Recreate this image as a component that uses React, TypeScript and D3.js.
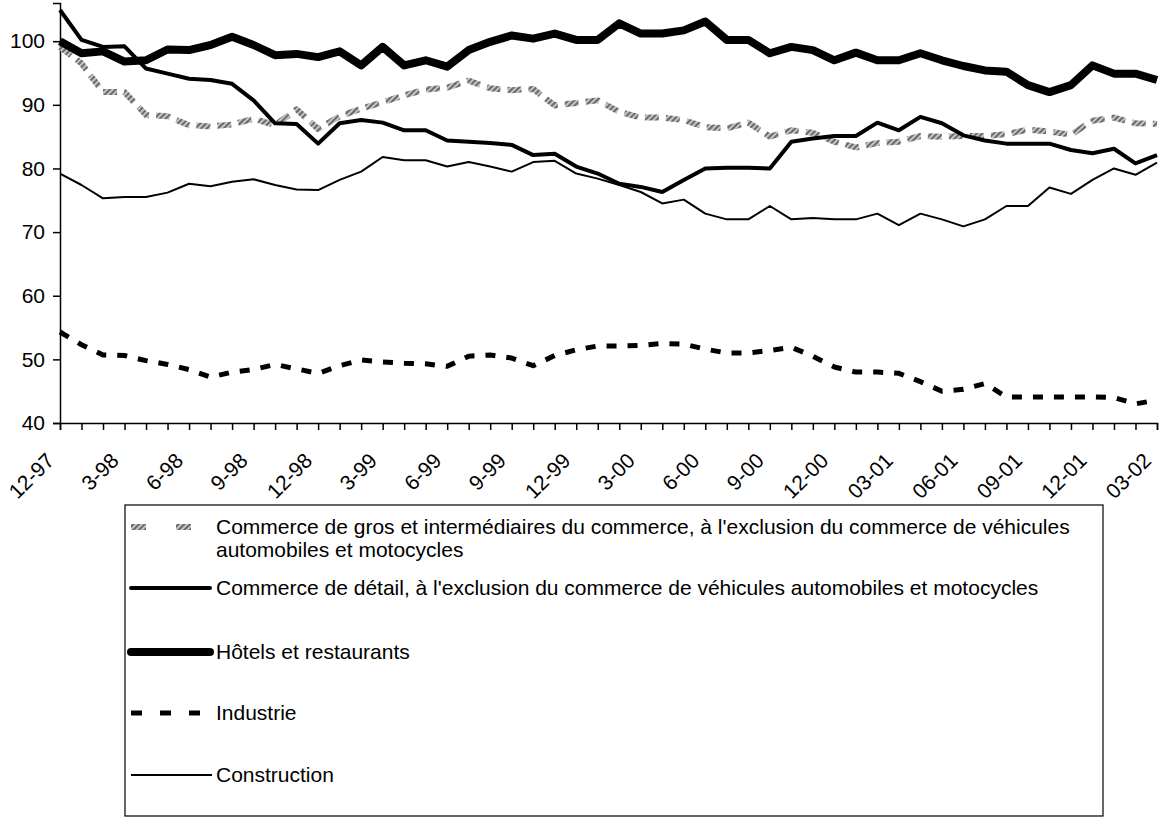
import * as d3 from 'd3';
import { useEffect, useRef } from "react";

const tickLabels = ['12-97', '3-98', '6-98', '9-98', '12-98', '3-99', '6-99', '9-99', '12-99',
    '3-00', '6-00', '9-00', '12-00', '03-01', '06-01', '09-01', '12-01', '03-02'];

const yTicks = [40, 50, 60, 70, 80, 90, 100];

// monthly values, 12-97 .. 03-02
const gros = [99.1, 96.5, 92.0, 92.0, 88.4, 88.2, 86.8, 86.6, 86.9, 87.8, 86.8, 89.3, 86.2,
    88.2, 89.4, 90.4, 91.5, 92.4, 92.7, 93.8, 92.6, 92.3, 92.5, 89.9, 90.3, 90.7, 88.9, 88.0,
    88.0, 87.6, 86.5, 86.3, 87.2, 85.0, 86.0, 85.6, 84.2, 83.3, 84.0, 84.2, 85.1, 85.0, 85.1,
    85.1, 85.4, 86.1, 85.8, 85.3, 87.5, 88.0, 87.1, 87.0];

const detail = [104.9, 100.2, 99.1, 99.2, 95.7, 94.9, 94.1, 93.9, 93.3, 90.7, 87.1, 87.0, 83.9,
    87.1, 87.6, 87.2, 86.0, 86.0, 84.4, 84.2, 84.0, 83.7, 82.1, 82.3, 80.3, 79.2, 77.6, 77.1,
    76.3, 78.2, 80.0, 80.1, 80.1, 80.0, 84.2, 84.7, 85.1, 85.1, 87.2, 86.0, 88.1, 87.1, 85.2,
    84.4, 83.9, 83.9, 83.9, 82.9, 82.4, 83.1, 80.8, 82.1];

const hotels = [100, 98.1, 98.4, 96.8, 97.0, 98.7, 98.6, 99.4, 100.7, 99.4, 97.8, 98.0, 97.5,
    98.4, 96.2, 99.1, 96.2, 97.0, 96.0, 98.6, 99.9, 100.9, 100.4, 101.2, 100.2, 100.2, 102.8,
    101.2, 101.2, 101.7, 103.1, 100.2, 100.2, 98.1, 99.1, 98.6, 97.0, 98.2, 97.0, 97.0, 98.1,
    97.0, 96.1, 95.4, 95.2, 93.1, 92.0, 93.1, 96.2, 94.9, 94.9, 93.9];

const industrie = [54.3, 52.3, 50.7, 50.6, 49.8, 49.2, 48.4, 47.2, 48.0, 48.4, 49.2, 48.5, 47.8,
    49.0, 49.9, 49.6, 49.4, 49.3, 48.9, 50.5, 50.7, 50.2, 49.0, 50.6, 51.5, 52.1, 52.1, 52.2,
    52.5, 52.4, 51.6, 51.0, 51.0, 51.4, 51.9, 50.5, 48.8, 48.0, 48.0, 47.8, 46.5, 45.0, 45.3,
    46.2, 44.1, 44.1, 44.1, 44.1, 44.1, 44.0, 43.0, 43.6];

const construction = [79.2, 77.4, 75.3, 75.5, 75.5, 76.2, 77.6, 77.2, 77.9, 78.3, 77.4, 76.7, 76.6,
    78.2, 79.5, 81.8, 81.3, 81.3, 80.3, 81.0, 80.3, 79.5, 81.0, 81.2, 79.2, 78.4, 77.4, 76.3,
    74.5, 75.1, 72.9, 72.0, 72.0, 74.1, 72.0, 72.2, 72.0, 72.0, 72.9, 71.1, 72.9, 72.0, 70.9,
    72.0, 74.1, 74.1, 77.0, 76.0, 78.2, 80.0, 79.0, 80.9];

type Series = {
    label: string[],
    values: number[],
    stroke: string,
    width: number,
    dash: string | null,
    legendDash: string | null,
    cap: string,
};

const series: Series[] = [
    { label: ["Commerce de gros et intermédiaires du commerce, à l'exclusion du commerce de véhicules", "automobiles et motocycles"], values: gros, stroke: 'url(#hatch)', width: 6, dash: '14 7', legendDash: '15 30', cap: 'butt' },
    { label: ["Commerce de détail, à l'exclusion du commerce de véhicules automobiles et motocycles"], values: detail, stroke: '#000', width: 4, dash: null, legendDash: null, cap: 'round' },
    { label: ["Hôtels et restaurants"], values: hotels, stroke: '#000', width: 8, dash: null, legendDash: null, cap: 'round' },
    { label: ["Industrie"], values: industrie, stroke: '#000', width: 5, dash: '10 11', legendDash: '11 18', cap: 'butt' },
    { label: ["Construction"], values: construction, stroke: '#000', width: 2, dash: null, legendDash: null, cap: 'butt' },
];

const W = 1160;
const H = 818;
const FONT = '"Liberation Sans", Arial, sans-serif';
const FS = 21;

export default function App() {
    const ref = useRef(null);
    useEffect(() => {
        if (!ref.current) return;
        const svg = d3.select(ref.current);
        svg.selectAll("*").remove();

        const defs = svg.append('defs');
        const pat = defs.append('pattern')
            .attr('id', 'hatch')
            .attr('patternUnits', 'userSpaceOnUse')
            .attr('width', 4).attr('height', 4)
            .attr('patternTransform', 'rotate(45)');
        pat.append('rect').attr('width', 4).attr('height', 4).attr('fill', '#c4c4c4');
        pat.append('rect').attr('width', 2).attr('height', 4).attr('fill', '#6a6a6a');

        const n = gros.length;
        const x = d3.scaleLinear().domain([0, n - 1]).range([60, 1157]);
        const y = d3.scaleLinear().domain([40, 106]).range([423, 3]);

        // axes
        const xAxis = d3.axisBottom(x)
            .tickValues(d3.range(n))
            .tickSize(7)
            .tickFormat(i => (+i % 3 === 0 ? tickLabels[+i / 3] : ''));
        const gx = svg.append('g').attr('transform', `translate(0,${y(40)})`).call(xAxis);
        gx.select('.domain').attr('stroke', '#000').attr('stroke-width', 1.5);
        gx.selectAll('.tick line').attr('stroke', '#000').attr('stroke-width', 1.5);
        gx.selectAll('.tick text')
            .attr('font-family', FONT)
            .attr('font-size', FS)
            .attr('fill', '#000')
            .attr('text-anchor', 'end')
            .attr('dy', 0)
            .attr('y', 0)
            .attr('transform', 'translate(-5,39) rotate(-45)');

        const yAxis = d3.axisLeft(y).tickValues(yTicks).tickSize(7).tickPadding(8);
        const gy = svg.append('g').attr('transform', `translate(${x(0)},0)`).call(yAxis);
        gy.select('.domain').attr('stroke', '#000').attr('stroke-width', 1.5);
        gy.selectAll('.tick line').attr('stroke', '#000').attr('stroke-width', 1.5);
        gy.selectAll('.tick text')
            .attr('font-family', FONT)
            .attr('font-size', FS)
            .attr('fill', '#000');

        // lines
        const line = d3.line<number>()
            .x((_, i) => x(i))
            .y(d => y(d));

        svg.append('g').selectAll('path')
            .data(series)
            .enter()
            .append('path')
            .attr('d', d => line(d.values))
            .attr('fill', 'none')
            .attr('stroke', d => d.stroke)
            .attr('stroke-width', d => d.width)
            .attr('stroke-dasharray', d => d.dash)
            .attr('stroke-linejoin', 'round');

        // legend
        const lg = svg.append('g');
        lg.append('rect')
            .attr('x', 125).attr('y', 505)
            .attr('width', 978).attr('height', 311)
            .attr('fill', 'none').attr('stroke', '#000').attr('stroke-width', 1.2);

        const rowY = [527, 588, 652, 713, 775];
        series.forEach((s, i) => {
            lg.append('line')
                .attr('x1', 131).attr('x2', s.cap === 'round' ? 210 : 212)
                .attr('y1', rowY[i]).attr('y2', rowY[i])
                .attr('stroke', s.stroke)
                .attr('stroke-width', s.width)
                .attr('stroke-linecap', s.cap)
                .attr('stroke-dasharray', s.legendDash);
            s.label.forEach((t, j) => {
                lg.append('text')
                    .attr('x', 216)
                    .attr('y', rowY[i] + 7 + j * 23)
                    .attr('font-family', FONT)
                    .attr('font-size', FS)
                    .text(t);
            });
        });
    }, []);

    return (
        <div style={{ position: 'absolute', left: 0, top: 0 }}>
            <svg ref={ref} width={W} height={H} style={{ display: 'block', background: '#fff' }}></svg>
        </div>
    );
}
